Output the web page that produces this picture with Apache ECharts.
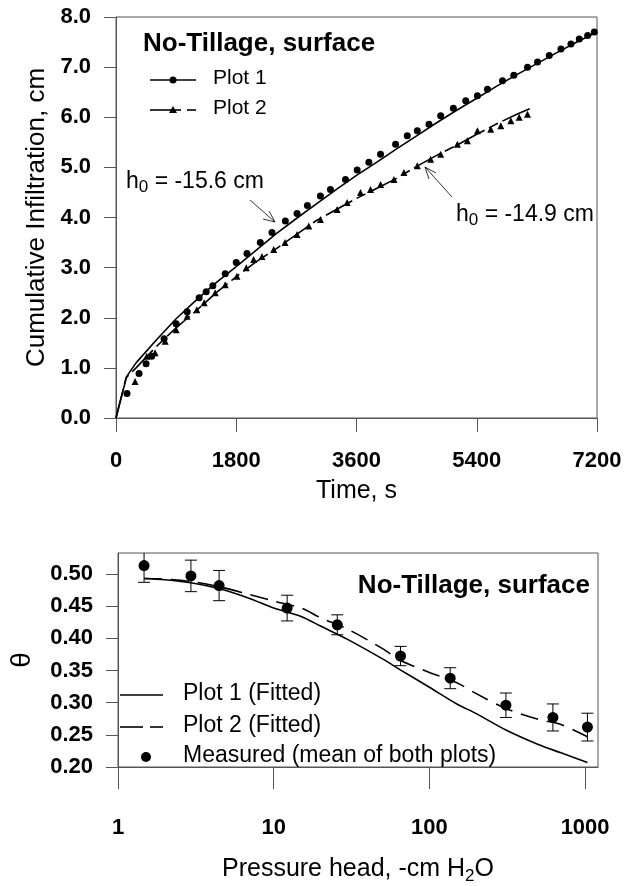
<!DOCTYPE html>
<html>
<head>
<meta charset="utf-8">
<script src="https://cdn.jsdelivr.net/npm/echarts@6/dist/echarts.min.js"></script>
<style>
  html, body { margin: 0; padding: 0; background: #fff; }
  #chart { width: 629px; height: 886px; }
</style>
</head>
<body>
<div id="chart"></div>
<script>
// ---- top panel: cumulative infiltration vs time ----
const plot1Time = [165, 345, 450, 535, 720, 900, 1065, 1245, 1350, 1450, 1635, 1800, 1960, 2160, 2335, 2535, 2710, 2865, 3060, 3210, 3435, 3610, 3785, 3960, 4185, 4360, 4510, 4685, 4860, 5050, 5235, 5410, 5560, 5785, 5955, 6160, 6310, 6485, 6660, 6810, 6935, 7060, 7160];
const plot1Inf = [0.49, 0.89, 1.08, 1.23, 1.58, 1.88, 2.12, 2.40, 2.52, 2.64, 2.88, 3.10, 3.28, 3.50, 3.70, 3.93, 4.08, 4.24, 4.43, 4.56, 4.76, 4.95, 5.10, 5.26, 5.46, 5.63, 5.73, 5.86, 6.03, 6.18, 6.33, 6.43, 6.56, 6.73, 6.84, 7.00, 7.10, 7.23, 7.36, 7.46, 7.56, 7.63, 7.70];
const plot2Time = [285, 460, 585, 735, 900, 1065, 1210, 1320, 1485, 1635, 1810, 1950, 2060, 2185, 2360, 2530, 2710, 2885, 3060, 3310, 3460, 3660, 3810, 3960, 4160, 4310, 4510, 4710, 4860, 5110, 5260, 5410, 5610, 5760, 5910, 6035, 6160];
const plot2Inf = [0.73, 1.23, 1.30, 1.53, 1.76, 2.03, 2.16, 2.30, 2.50, 2.66, 2.83, 3.00, 3.16, 3.22, 3.36, 3.50, 3.66, 3.83, 3.96, 4.16, 4.30, 4.50, 4.56, 4.66, 4.76, 4.90, 5.03, 5.16, 5.26, 5.46, 5.53, 5.73, 5.76, 5.83, 5.93, 6.00, 6.06];
// fitted curves
const fit1Time = [0, 160, 300, 600, 900, 1200, 1500, 1800, 2100, 2400, 2700, 3000, 3300, 3600, 3900, 4200, 4500, 4800, 5100, 5400, 5700, 6000, 6300, 6600, 6900, 7200];
const fit1Inf = [0, 0.83, 1.10, 1.55, 1.98, 2.35, 2.70, 3.02, 3.35, 3.68, 3.98, 4.27, 4.56, 4.84, 5.10, 5.37, 5.63, 5.89, 6.14, 6.38, 6.62, 6.85, 7.07, 7.29, 7.50, 7.70];
const fit2Time = [0, 150, 300, 600, 900, 1200, 1500, 1800, 2100, 2400, 2700, 3000, 3300, 3600, 3900, 4200, 4500, 4800, 5100, 5400, 5700, 6000, 6210];
const fit2Inf = [0, 0.80, 1.00, 1.42, 1.80, 2.14, 2.50, 2.82, 3.12, 3.38, 3.66, 3.94, 4.16, 4.38, 4.58, 4.78, 5.02, 5.24, 5.44, 5.66, 5.87, 6.06, 6.18];
const timeTicks = [0, 1800, 3600, 5400, 7200];

// ---- bottom panel: water retention ----
const headMeas = [1.47, 2.94, 4.46, 12.2, 25.6, 65.2, 136, 310, 621, 1035];
const thetaMeas = [0.513, 0.497, 0.482, 0.447, 0.421, 0.3725, 0.338, 0.296, 0.277, 0.262];
const thetaErr = [0.026, 0.0245, 0.0235, 0.020, 0.0155, 0.015, 0.0163, 0.019, 0.021, 0.0216];
const headFit = [1.47, 2, 3, 4.5, 7, 10, 15, 20, 30, 50, 65, 100, 150, 200, 310, 500, 700, 1035];
const thetaFit1 = [0.493, 0.491, 0.486, 0.477, 0.462, 0.447, 0.434, 0.419, 0.398, 0.368, 0.351, 0.324, 0.298, 0.283, 0.2575, 0.235, 0.222, 0.207];
const thetaFit2 = [0.493, 0.492, 0.488, 0.480, 0.468, 0.458, 0.447, 0.432, 0.414, 0.384, 0.366, 0.347, 0.331, 0.314, 0.291, 0.274, 0.266, 0.247];

const FONT = 'Liberation Sans, Arial, sans-serif';
const AXIS_COLOR = '#555';

const zip = (a, b) => a.map((v, i) => [v, b[i]]);

function errorBar(params, api) {
  const x = api.value(0);
  const top = api.coord([x, api.value(2)]);
  const bot = api.coord([x, api.value(1)]);
  const w = 6;
  const st = { stroke: '#000', lineWidth: 1 };
  return {
    type: 'group',
    children: [
      { type: 'line', shape: { x1: top[0], y1: top[1], x2: bot[0], y2: bot[1] }, style: st },
      { type: 'line', shape: { x1: top[0] - w, y1: top[1], x2: top[0] + w, y2: top[1] }, style: st },
      { type: 'line', shape: { x1: bot[0] - w, y1: bot[1], x2: bot[0] + w, y2: bot[1] }, style: st }
    ]
  };
}

const tickLabel = { color: '#000', fontFamily: FONT, fontWeight: 'bold', fontSize: 22 };
const axisLine = { show: true, lineStyle: { color: AXIS_COLOR, width: 1 } };
const nameStyle = { color: '#000', fontFamily: FONT, fontSize: 25 };
const blackDot = { color: '#000', opacity: 1 };

const chart = echarts.init(document.getElementById('chart'));
chart.setOption({
  animation: false,
  backgroundColor: '#fff',
  grid: [
    { left: 116, right: 32, top: 17, bottom: 468, show: true, borderColor: AXIS_COLOR, borderWidth: 1 },
    { left: 116, right: 31, top: 553, bottom: 119, show: true, borderColor: AXIS_COLOR, borderWidth: 1 }
  ],
  xAxis: [
    {
      gridIndex: 0, type: 'value', min: 0, max: 7200, interval: 1800,
      axisLine: axisLine,
      axisTick: { show: true, inside: false, length: 14, lineStyle: { color: AXIS_COLOR } },
      axisLabel: Object.assign({ margin: 32, formatter: v => timeTicks.includes(v) ? String(v) : '' }, tickLabel),
      splitLine: { show: false },
      name: 'Time, s', nameLocation: 'middle', nameGap: 61, nameTextStyle: nameStyle
    },
    {
      gridIndex: 1, type: 'log', logBase: 10, min: 1, max: 1210,
      axisLine: axisLine,
      axisTick: { show: true, inside: false, length: 22, lineStyle: { color: AXIS_COLOR } },
      axisLabel: Object.assign({ margin: 50, formatter: v => String(Math.round(v)) }, tickLabel),
      minorTick: { show: false },
      splitLine: { show: false },
      name: '{n|Pressure head, -cm H}{s|2}{n|O}', nameLocation: 'middle', nameGap: 87,
      nameTextStyle: {
        rich: {
          n: { color: '#000', fontFamily: FONT, fontSize: 25 },
          s: { color: '#000', fontFamily: FONT, fontSize: 17, padding: [14, 0, 0, 0] }
        }
      }
    }
  ],
  yAxis: [
    {
      gridIndex: 0, type: 'value', min: 0, max: 8, interval: 1,
      axisLine: axisLine,
      axisTick: { show: true, inside: false, length: 12, lineStyle: { color: AXIS_COLOR } },
      axisLabel: Object.assign({ margin: 25, formatter: v => v.toFixed(1) }, tickLabel),
      splitLine: { show: false },
      name: 'Cumulative Infiltration, cm', nameLocation: 'middle', nameGap: 56, nameTextStyle: Object.assign({}, nameStyle, { fontSize: 26 })
    },
    {
      gridIndex: 1, type: 'value', min: 0.2, max: 0.5326, interval: 0.05,
      axisLine: axisLine,
      axisTick: { show: true, inside: false, length: 12, lineStyle: { color: AXIS_COLOR } },
      axisLabel: Object.assign({ margin: 25, formatter: v => v.toFixed(2), showMaxLabel: false }, tickLabel),
      splitLine: { show: false },
      name: 'θ', nameLocation: 'middle', nameGap: 82, nameTextStyle: Object.assign({}, nameStyle, { fontSize: 28 })
    }
  ],
  series: [
    {
      name: 'Plot 1 fit', type: 'line', xAxisIndex: 0, yAxisIndex: 0,
      data: zip(fit1Time, fit1Inf), showSymbol: false, symbol: 'none',
      lineStyle: { color: '#000', width: 1.6 }, z: 3
    },
    {
      name: 'Plot 2 fit', type: 'line', xAxisIndex: 0, yAxisIndex: 0,
      data: zip(fit2Time, fit2Inf), showSymbol: false, symbol: 'none',
      lineStyle: { color: '#000', width: 1.6, type: [30, 5, 10, 5] }, z: 3
    },
    {
      name: 'Plot 1', type: 'scatter', xAxisIndex: 0, yAxisIndex: 0,
      data: zip(plot1Time, plot1Inf), symbol: 'circle', symbolSize: 7,
      itemStyle: blackDot, z: 4
    },
    {
      name: 'Plot 2', type: 'scatter', xAxisIndex: 0, yAxisIndex: 0,
      data: zip(plot2Time, plot2Inf), symbol: 'triangle', symbolSize: 7,
      itemStyle: blackDot, z: 4
    },
    {
      name: 'Plot 1 (Fitted)', type: 'line', xAxisIndex: 1, yAxisIndex: 1,
      data: zip(headFit, thetaFit1), showSymbol: false, symbol: 'none', smooth: 0.3,
      lineStyle: { color: '#000', width: 1.6 }
    },
    {
      name: 'Plot 2 (Fitted)', type: 'line', xAxisIndex: 1, yAxisIndex: 1,
      data: zip(headFit, thetaFit2), showSymbol: false, symbol: 'none', smooth: 0.3,
      lineStyle: { color: '#000', width: 1.6, type: [18, 9] }
    },
    {
      name: 'error', type: 'custom', xAxisIndex: 1, yAxisIndex: 1, clip: true,
      data: headMeas.map((h, i) => [h, thetaMeas[i] - thetaErr[i], thetaMeas[i] + thetaErr[i]]),
      encode: { x: 0, y: [1, 2] },
      renderItem: errorBar, z: 4
    },
    {
      name: 'Measured (mean of both plots)', type: 'scatter', xAxisIndex: 1, yAxisIndex: 1,
      data: zip(headMeas, thetaMeas), symbol: 'circle', symbolSize: 11,
      itemStyle: blackDot, z: 5
    }
  ],
  graphic: [
    // top panel title + legend
    { type: 'text', left: 143, top: 31, style: { text: 'No-Tillage, surface', font: 'bold 26px ' + FONT, fill: '#000' } },
    { type: 'line', shape: { x1: 150, y1: 80, x2: 196, y2: 80 }, style: { stroke: '#000', lineWidth: 1.6 } },
    { type: 'circle', shape: { cx: 173, cy: 80, r: 3.5 }, style: { fill: '#000' } },
    { type: 'text', left: 213, top: 68, style: { text: 'Plot 1', font: '21px ' + FONT, fill: '#000' } },
    { type: 'line', shape: { x1: 150, y1: 110, x2: 181, y2: 110 }, style: { stroke: '#000', lineWidth: 1.6 } },
    { type: 'line', shape: { x1: 187, y1: 110, x2: 196, y2: 110 }, style: { stroke: '#000', lineWidth: 1.6 } },
    { type: 'polygon', shape: { points: [[173, 106], [169, 113], [177, 113]] }, style: { fill: '#000' } },
    { type: 'text', left: 213, top: 98, style: { text: 'Plot 2', font: '21px ' + FONT, fill: '#000' } },
    // annotations
    {
      type: 'text', left: 126, top: 170,
      style: {
        text: '{a|h}{s|0}{a| = -15.6 cm}',
        rich: { a: { font: '23px ' + FONT, fill: '#000' }, s: { font: '17px ' + FONT, fill: '#000', padding: [12, 0, 0, 0] } }
      }
    },
    { type: 'line', shape: { x1: 250, y1: 200, x2: 275, y2: 222 }, style: { stroke: '#000', lineWidth: 0.8 } },
    { type: 'polyline', shape: { points: [[263, 219], [275, 222], [269, 211]] }, style: { stroke: '#000', lineWidth: 0.8, fill: null } },
    {
      type: 'text', left: 456, top: 203,
      style: {
        text: '{a|h}{s|0}{a| = -14.9 cm}',
        rich: { a: { font: '23px ' + FONT, fill: '#000' }, s: { font: '17px ' + FONT, fill: '#000', padding: [12, 0, 0, 0] } }
      }
    },
    { type: 'line', shape: { x1: 452, y1: 197, x2: 425, y2: 167 }, style: { stroke: '#000', lineWidth: 0.8 } },
    { type: 'polyline', shape: { points: [[429, 179], [425, 167], [436, 173]] }, style: { stroke: '#000', lineWidth: 0.8, fill: null } },
    // bottom panel title + legend
    { type: 'text', right: 39, top: 573, style: { text: 'No-Tillage, surface', font: 'bold 26px ' + FONT, fill: '#000' } },
    { type: 'line', shape: { x1: 120, y1: 695, x2: 163, y2: 695 }, style: { stroke: '#000', lineWidth: 1.6 } },
    { type: 'text', left: 183, top: 682, style: { text: 'Plot 1 (Fitted)', font: '23px ' + FONT, fill: '#000' } },
    { type: 'line', shape: { x1: 120, y1: 727, x2: 143, y2: 727 }, style: { stroke: '#000', lineWidth: 1.6 } },
    { type: 'line', shape: { x1: 150, y1: 727, x2: 163, y2: 727 }, style: { stroke: '#000', lineWidth: 1.6 } },
    { type: 'text', left: 183, top: 714, style: { text: 'Plot 2 (Fitted)', font: '23px ' + FONT, fill: '#000' } },
    { type: 'circle', shape: { cx: 146, cy: 757, r: 5 }, style: { fill: '#000' } },
    { type: 'text', left: 183, top: 744, style: { text: 'Measured (mean of both plots)', font: '23px ' + FONT, fill: '#000' } }
  ]
});
</script>
</body>
</html>
